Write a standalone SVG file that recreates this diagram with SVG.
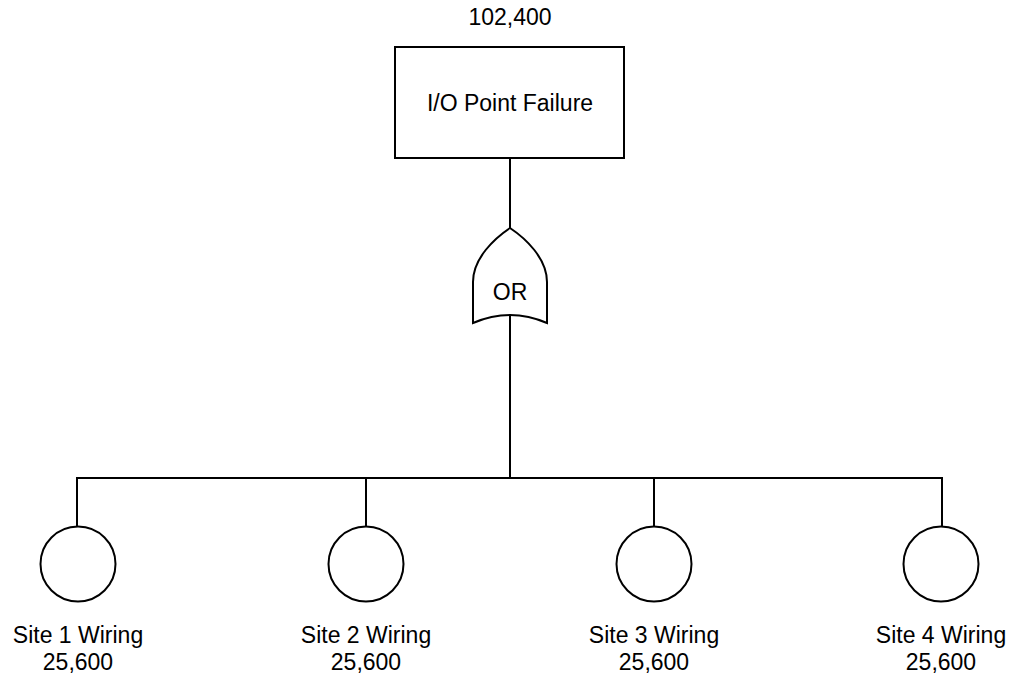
<svg xmlns="http://www.w3.org/2000/svg" width="1016" height="676" viewBox="0 0 1016 676">
<style>
.s{fill:#fff;stroke:#000;stroke-width:2}
.l{fill:none;stroke:#000;stroke-width:2}
text{font-family:"Liberation Sans",Arial,sans-serif;font-size:23px;fill:#000;text-anchor:middle}
</style>
<rect width="1016" height="676" fill="#fff"/>
<g id="connectors">
<line class="l" x1="510" y1="158" x2="510" y2="228"/>
<line class="l" x1="510" y1="315" x2="510" y2="478"/>
<polyline class="l" points="77,527 77,478 942,478 942,527"/>
<line class="l" x1="366" y1="478" x2="366" y2="527"/>
<line class="l" x1="654" y1="478" x2="654" y2="527"/>
</g>
<g id="top">
<text x="510" y="25">102,400</text>
<rect class="s" x="395" y="47" width="229" height="111"/>
<text x="510" y="111">I/O Point Failure</text>
</g>
<g id="or-gate">
<path class="s" d="M473,323 L473,282 C473,258 495,238 510,228 C525,238 547,258 547,282 L547,323 Q510,307 473,323 Z"/>
<text x="510" y="300">OR</text>
</g>
<g id="site1">
<circle class="s" cx="78" cy="564" r="37.5"/>
<text x="78" y="643">Site 1 Wiring</text>
<text x="78" y="670">25,600</text>
</g>
<g id="site2">
<circle class="s" cx="366" cy="564" r="37.5"/>
<text x="366" y="643">Site 2 Wiring</text>
<text x="366" y="670">25,600</text>
</g>
<g id="site3">
<circle class="s" cx="654" cy="564" r="37.5"/>
<text x="654" y="643">Site 3 Wiring</text>
<text x="654" y="670">25,600</text>
</g>
<g id="site4">
<circle class="s" cx="941" cy="564" r="37.5"/>
<text x="941" y="643">Site 4 Wiring</text>
<text x="941" y="670">25,600</text>
</g>
</svg>
